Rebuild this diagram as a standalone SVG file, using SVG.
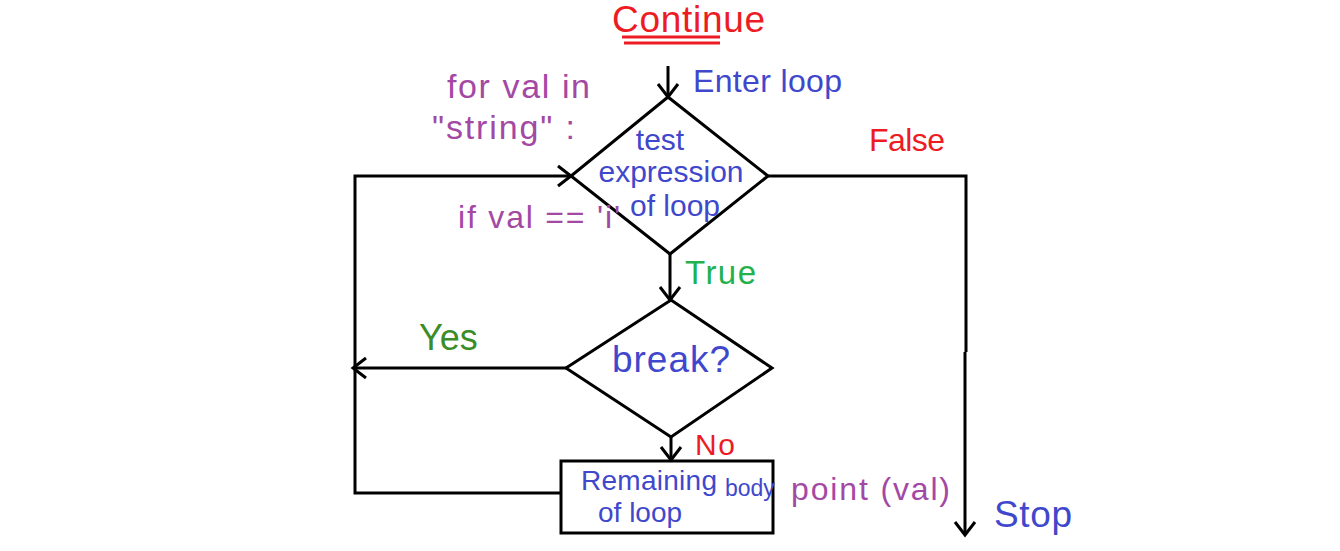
<svg xmlns="http://www.w3.org/2000/svg" width="1340" height="551" viewBox="0 0 1340 551">
<defs>
<style>
text{font-family:"Liberation Sans",Arial,sans-serif;}
.shape{fill:none;stroke:#000;stroke-width:3;stroke-linejoin:miter;}
.conn{fill:none;stroke:#000;stroke-width:3;}
.red{fill:#ed1c24;}
.blue{fill:#3f48cc;}
.purple{fill:#a349a4;}
.green{fill:#22b14c;}
.dgreen{fill:#3c8c28;}
</style>
<marker id="arrow" viewBox="0 0 20 24" refX="16" refY="12" markerWidth="20" markerHeight="24" markerUnits="userSpaceOnUse" orient="auto">
<path d="M3,2 L16,12 L3,22" fill="none" stroke="#000" stroke-width="3"/>
</marker>
</defs>
<rect width="1340" height="551" fill="#fff"/>

<g id="title">
<text x="612" y="32" font-size="37" class="red" textLength="153">Continue</text>
<line x1="622" y1="37" x2="720" y2="37" stroke="#ed1c24" stroke-width="3"/>
<line x1="624" y1="43" x2="720" y2="43" stroke="#ed1c24" stroke-width="3"/>
</g>

<g id="connectors">
<path class="conn" d="M668,66 V97" marker-end="url(#arrow)"/>
<path class="conn" d="M670,254 V300" marker-end="url(#arrow)"/>
<path class="conn" d="M671,437 V460" marker-end="url(#arrow)"/>
<path class="conn" d="M566,368 H353" marker-end="url(#arrow)"/>
<path class="conn" d="M561,493 H355 V176 H571" marker-end="url(#arrow)"/>
<path class="conn" d="M768,176 H966 V352"/>
<path class="conn" d="M965,352 V535" marker-end="url(#arrow)"/>
</g>

<g id="test-node">
<polygon class="shape" points="668,97 768,176 670,254 571,176"/>
<text x="660" y="150" font-size="30" class="blue" text-anchor="middle">test</text>
<text x="671" y="182" font-size="30" class="blue" text-anchor="middle">expression</text>
<text x="675" y="216" font-size="30" class="blue" text-anchor="middle">of loop</text>
</g>

<g id="break-node">
<polygon class="shape" points="671,300 772,368 671,437 566,368"/>
<text x="612" y="372" font-size="37" class="blue" textLength="118">break?</text>
</g>

<g id="body-node">
<rect class="shape" x="561" y="461" width="212" height="72"/>
<text x="581" y="490" font-size="28" class="blue" textLength="136">Remaining</text>
<text x="598" y="522" font-size="28" class="blue">of loop</text>
<text x="725" y="496" font-size="23" class="blue">body</text>
</g>

<g id="labels">
<text x="693" y="92" font-size="32" class="blue" textLength="149">Enter loop</text>
<text x="447" y="98" font-size="34" class="purple" textLength="143">for val in</text>
<text x="432" y="139" font-size="34" class="purple" textLength="143">"string" :</text>
<text x="458" y="228" font-size="32" class="purple" textLength="162">if val == 'i'</text>
<text x="869" y="151" font-size="32" class="red" textLength="76">False</text>
<text x="685" y="284" font-size="33" class="green" textLength="71">True</text>
<text x="419" y="350" font-size="36" class="dgreen">Yes</text>
<text x="695" y="455" font-size="30" class="red" textLength="40">No</text>
<text x="791" y="500" font-size="32" class="purple" textLength="159">point (val)</text>
<text x="994" y="527" font-size="37" class="blue" textLength="78">Stop</text>
</g>
</svg>
